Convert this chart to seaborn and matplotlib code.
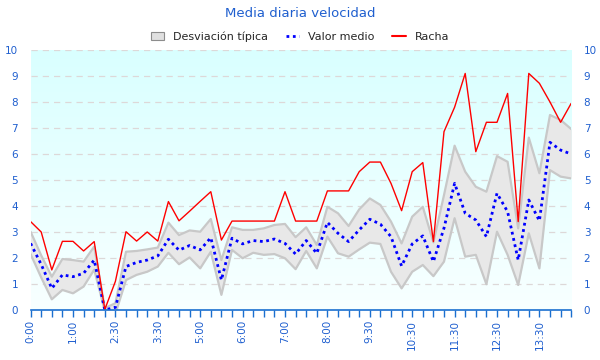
import numpy as np
import pandas as pd
import matplotlib
matplotlib.use("Agg")
import matplotlib.pyplot as plt
from matplotlib.patches import Patch
from matplotlib.lines import Line2D
import seaborn as sns

# ==============================================================================
# DATOS
# ==============================================================================
horas = ["0:00", "0:15", "0:30", "0:45", "1:00", "1:15", "1:30", "2:15", "2:30", "2:45",
         "3:00", "3:15", "3:30", "3:45", "4:00", "4:30", "5:00", "5:15", "5:30", "5:45",
         "6:00", "6:15", "6:30", "6:45", "7:00", "7:15", "7:30", "7:45", "8:00", "8:15",
         "8:45", "9:15", "9:30", "9:45", "10:00", "10:15", "10:30", "10:45", "11:00", "11:15",
         "11:30", "11:45", "12:00", "12:15", "12:30", "12:45", "13:00", "13:15", "13:30", "13:45",
         "14:00", "14:15"]

racha = [3.40, 3.00, 1.54, 2.64, 2.64, 2.27, 2.63, 0.02, 1.10, 3.01,
         2.65, 3.00, 2.65, 4.17, 3.43, 3.80, 4.18, 4.55, 2.69, 3.42,
         3.42, 3.42, 3.42, 3.42, 4.55, 3.42, 3.42, 3.42, 4.58, 4.58,
         4.58, 5.32, 5.69, 5.69, 4.87, 3.82, 5.32, 5.67, 2.63, 6.86,
         7.80, 9.10, 6.09, 7.22, 7.22, 8.33, 3.40, 9.10, 8.72, 8.00,
         7.22, 7.95]

valor_medio = [2.56, 1.75, 0.83, 1.35, 1.28, 1.41, 1.92, 0.00, 0.10, 1.67,
               1.83, 1.92, 2.08, 2.72, 2.30, 2.48, 2.31, 2.78, 1.15, 2.76,
               2.54, 2.67, 2.63, 2.73, 2.56, 2.15, 2.67, 2.18, 3.37, 2.95,
               2.63, 3.08, 3.49, 3.30, 2.82, 1.69, 2.54, 2.85, 1.86, 3.15,
               4.87, 3.72, 3.46, 2.82, 4.49, 3.78, 1.92, 4.23, 3.43, 6.45,
               6.15, 6.00]

desv_sup = [3.01, 2.10, 1.28, 1.96, 1.92, 1.86, 2.44, 0.07, 0.26, 2.24,
            2.27, 2.33, 2.40, 3.36, 2.88, 3.06, 3.01, 3.50, 1.92, 3.18,
            3.08, 3.08, 3.14, 3.27, 3.31, 2.80, 3.18, 2.50, 3.97, 3.72,
            3.23, 3.87, 4.29, 4.04, 3.40, 2.56, 3.59, 3.97, 2.60, 4.42,
            6.32, 5.32, 4.74, 4.55, 5.92, 5.70, 3.14, 6.63, 5.26, 7.50,
            7.31, 6.96]

desv_inf = [2.15, 1.25, 0.41, 0.77, 0.64, 0.90, 1.55, -0.03, -0.15, 1.15,
            1.35, 1.47, 1.67, 2.20, 1.76, 2.02, 1.60, 2.24, 0.58, 2.31,
            1.99, 2.20, 2.12, 2.15, 1.99, 1.57, 2.27, 1.60, 2.82, 2.18,
            2.05, 2.33, 2.59, 2.54, 1.47, 0.83, 1.47, 1.73, 1.30, 1.86,
            3.53, 2.05, 2.12, 0.99, 3.01, 2.12, 0.96, 2.95, 1.60, 5.38,
            5.13, 5.06]

# ==============================================================================
# CONFIGURACIÓN
# ==============================================================================
AZUL_TEXTO = "#1f5fcf"
sns.set_style("white")
plt.rcParams["font.family"] = ["DejaVu Sans"]

df = pd.DataFrame({
    "pos": np.arange(len(horas)),
    "hora": horas,
    "racha": racha,
    "medio": valor_medio,
    "sup": desv_sup,
    "inf": desv_inf,
})

fig = plt.figure(figsize=(6, 3.6), dpi=100)
ax = fig.add_axes([0.051, 0.139, 0.901, 0.722])

# fondo degradado
grad = np.linspace(0, 1, 256).reshape(-1, 1)
cmap = matplotlib.colors.LinearSegmentedColormap.from_list("fondo", ["#d9ffff", "#f8ffff"])
ax.imshow(grad, extent=[0, len(horas) - 1, 0, 10], aspect="auto", cmap=cmap, zorder=0)

# banda de desviación típica
ax.fill_between(df["pos"], df["inf"], df["sup"], color="#e8e8e8", zorder=2, linewidth=0)
sns.lineplot(data=df, x="pos", y="sup", ax=ax, color="#c8c8c8", linewidth=1.6, zorder=3)
sns.lineplot(data=df, x="pos", y="inf", ax=ax, color="#c8c8c8", linewidth=1.6, zorder=3)

# racha y valor medio
sns.lineplot(data=df, x="pos", y="racha", ax=ax, color="#ff0000", linewidth=1.0, zorder=5)
sns.lineplot(data=df, x="pos", y="medio", ax=ax, color="#0000ff", linewidth=2.0,
             dashes=False, zorder=4).lines[-1].set_dashes((1.0, 1.3))

ax.set_xlim(0, len(horas) - 1)
ax.set_ylim(0, 10)
ax.set_xlabel("")
ax.set_ylabel("")

# rejilla horizontal
for v in range(1, 11):
    ax.axhline(v, color="#ddd8d8", linestyle=(0, (5, 4)), linewidth=0.9, zorder=1)

# ejes
for lado in ["left", "right", "top"]:
    ax.spines[lado].set_visible(False)
ax.spines["bottom"].set_color("#1a6fcf")
ax.spines["bottom"].set_linewidth(1.2)
ax.spines["bottom"].set_zorder(6)

ax.set_xticks(df["pos"])
ax.set_xticklabels([h if i % 4 == 0 else "" for i, h in enumerate(horas)],
                   rotation=90, color=AZUL_TEXTO, fontsize=7.5)
ax.tick_params(axis="x", direction="out", length=5, width=1, color="#1a6fcf", pad=2, bottom=True)

ax.set_yticks(range(0, 11))
ax.tick_params(axis="y", length=0, labelsize=7.5, labelcolor=AZUL_TEXTO, pad=9,
               left=False, right=False, labelleft=True, labelright=True)

fig.text(0.5, 0.962, "Media diaria velocidad", ha="center", va="center",
         color=AZUL_TEXTO, fontsize=9.5)

handles = [
    Patch(facecolor="#e0e0e0", edgecolor="#8c8c8c", linewidth=0.8),
    Line2D([], [], color="#0000ff", linewidth=2.0, dashes=(1.0, 1.3)),
    Line2D([], [], color="#ff0000", linewidth=1.5),
]
fig.legend(handles, ["Desviación típica", "Valor medio", "Racha"], loc="center",
           bbox_to_anchor=(0.5, 0.898), ncol=3, frameon=False, fontsize=8,
           handlelength=1.2, handleheight=0.8, columnspacing=1.6, handletextpad=0.8)

plt.savefig("out.png", dpi=100)
plt.close()
